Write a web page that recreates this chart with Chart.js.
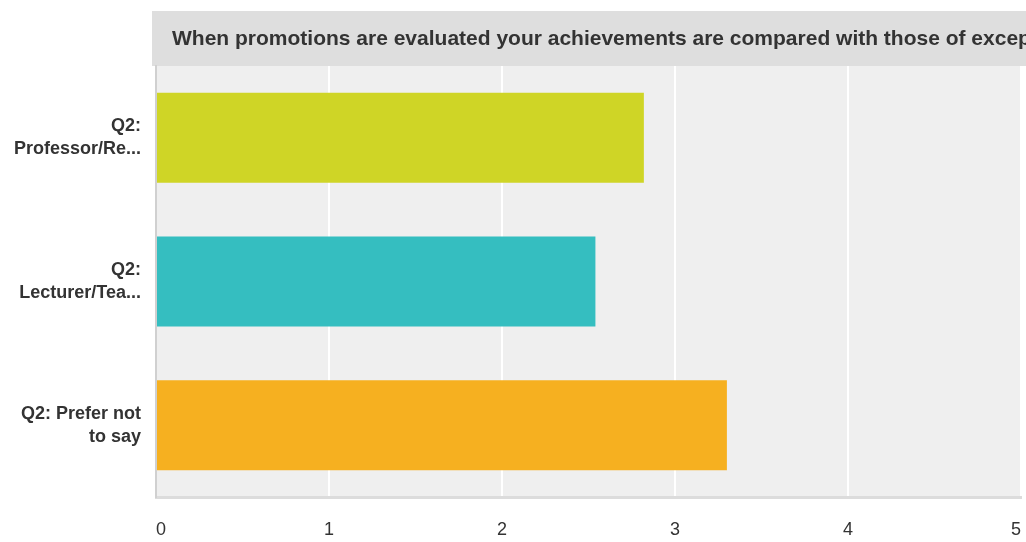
<!DOCTYPE html>
<html>
<head>
<meta charset="utf-8">
<script src="https://cdn.jsdelivr.net/npm/chart.js@4.4.1/dist/chart.umd.min.js"></script>
<style>
  html, body { margin: 0; padding: 0; background: #fff; }
  #wrap { width: 1026px; height: 542px; position: relative; }
</style>
</head>
<body>
<div id="wrap"><canvas id="chart"></canvas></div>
<script>
const categories = [
    ["Q2:", "Professor/Re..."],
    ["Q2:", "Lecturer/Tea..."],
    ["Q2: Prefer not", "to say"]
];
const values = [2.82, 2.54, 3.30];
const barColors = ["#cfd526", "#35bec0", "#f6b020"];
const xTicks = [0, 1, 2, 3, 4, 5];
const titleText = "When promotions are evaluated your achievements are compared with those of excep";

const fontFamily = "'Liberation Sans', Arial, Helvetica, sans-serif";

/* grey title strip + plot background */
const backdrop = {
    id: "backdrop",
    beforeDraw(chart) {
        const { ctx, chartArea } = chart;
        ctx.save();
        ctx.fillStyle = "#dedede";
        ctx.fillRect(chartArea.left - 4, 11, chart.width - chartArea.left + 4, chartArea.top - 11);
        ctx.fillStyle = "#efefef";
        ctx.fillRect(chartArea.left, chartArea.top, chartArea.right - chartArea.left + 1, chartArea.bottom - chartArea.top);
        ctx.fillStyle = "#333";
        ctx.font = `bold 21px ${fontFamily}`;
        ctx.textBaseline = "alphabetic";
        ctx.fillText(titleText, chartArea.left + 16, 45);
        ctx.restore();
    }
};

new Chart(document.getElementById("chart"), {
    type: "bar",
    data: {
        labels: categories,
        datasets: [{
            data: values,
            backgroundColor: barColors,
            borderWidth: 0,
            categoryPercentage: 1,
            barPercentage: 0.626
        }]
    },
    options: {
        indexAxis: "y",
        responsive: true,
        maintainAspectRatio: false,
        animation: false,
        layout: { padding: { top: 66, right: 5, bottom: 0, left: 0 } },
        plugins: {
            legend: { display: false },
            tooltip: { enabled: false }
        },
        scales: {
            x: {
                min: 0,
                max: 5,
                afterBuildTicks: (scale) => { scale.ticks = xTicks.map(v => ({ value: v })); },
                afterFit: (scale) => {
                    scale.height = 45;
                    scale.paddingLeft = 0;
                    scale.paddingRight = 0;
                },
                ticks: {
                    color: "#333",
                    padding: 22,
                    align: "inner",
                    font: { family: fontFamily, size: 18 }
                },
                grid: { color: "#ffffff", lineWidth: 2, drawTicks: false },
                border: { color: "#dcdcdc", width: 3 }
            },
            y: {
                afterFit: (scale) => { scale.width = 156; },
                ticks: {
                    color: "#333",
                    padding: 15,
                    font: { family: fontFamily, size: 18, weight: "bold", lineHeight: 1.28 }
                },
                grid: { display: false, drawTicks: false },
                border: { color: "#d0d0d0", width: 2 }
            }
        }
    },
    plugins: [backdrop]
});
</script>
</body>
</html>
